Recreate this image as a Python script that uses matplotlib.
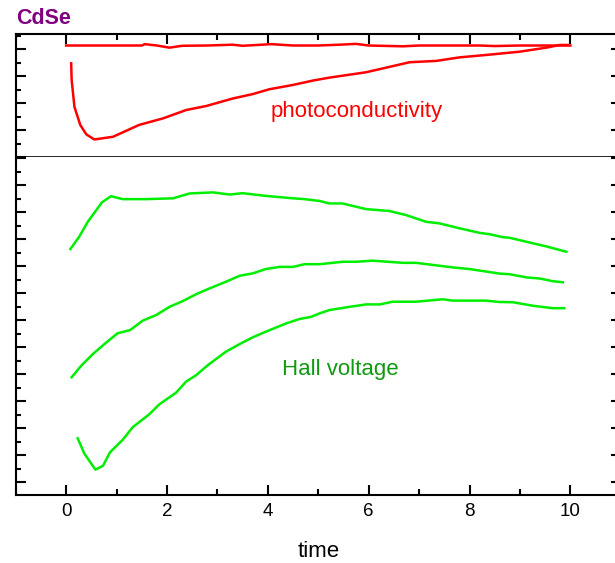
import matplotlib
matplotlib.use('Agg')
import matplotlib.pyplot as plt
from matplotlib.ticker import MultipleLocator

plt.rcParams['font.family'] = ['Liberation Sans', 'DejaVu Sans']

# photoconductivity (top panel)
pc_flat_t = [0.0, 0.5, 1.0, 1.5, 1.56, 1.8, 2.05, 2.3, 2.8, 3.3, 3.5, 4.07, 4.5, 5.0,
             5.42, 5.75, 6.0, 6.68, 7.0, 8.2, 8.5, 9.0, 9.5, 10.0]
pc_flat_v = [4.13, 4.13, 4.13, 4.13, 4.18, 4.13, 4.05, 4.12, 4.13, 4.16, 4.12, 4.18, 4.13, 4.13,
             4.16, 4.19, 4.13, 4.10, 4.13, 4.13, 4.11, 4.13, 4.13, 4.13]
pc_t = [0.10, 0.11, 0.165, 0.28, 0.40, 0.56, 0.93, 1.45, 1.92, 2.38, 2.78, 3.31, 3.70,
        4.03, 4.5, 4.89, 5.22, 5.95, 6.81, 7.34, 7.80, 8.33, 8.99, 9.52, 9.79, 9.95]
pc_v = [3.47, 2.85, 1.86, 1.19, 0.84, 0.65, 0.75, 1.19, 1.43, 1.74, 1.89, 2.17, 2.33,
        2.51, 2.67, 2.83, 2.94, 3.14, 3.51, 3.56, 3.69, 3.78, 3.90, 4.05, 4.15, 4.15]

# Hall voltage (bottom panel), three runs
hall1_t = [0.085, 0.26, 0.43, 0.71, 0.89, 1.12, 1.59, 2.12, 2.45, 2.91, 3.24, 3.50, 3.96,
           4.5, 4.73, 5.03, 5.22, 5.48, 5.95, 6.41, 6.74, 7.14, 7.41, 7.80, 8.20, 8.40,
           8.66, 8.79, 9.13, 9.52, 9.92]
hall1_v = [8.63, 9.09, 9.64, 10.36, 10.59, 10.48, 10.48, 10.51, 10.69, 10.73, 10.65, 10.70, 10.60,
           10.51, 10.48, 10.41, 10.32, 10.32, 10.11, 10.04, 9.89, 9.64, 9.58, 9.40, 9.23, 9.18,
           9.07, 9.05, 8.90, 8.73, 8.53]
hall2_t = [0.11, 0.30, 0.53, 0.79, 1.02, 1.27, 1.52, 1.79, 2.05, 2.31, 2.58, 2.84, 3.17,
           3.44, 3.70, 3.96, 4.23, 4.50, 4.73, 5.03, 5.49, 5.75, 6.08, 6.68, 6.94, 7.67,
           8.0, 8.60, 8.79, 9.13, 9.39, 9.65, 9.85]
hall2_v = [3.88, 4.31, 4.74, 5.16, 5.51, 5.63, 5.98, 6.19, 6.49, 6.70, 6.96, 7.17, 7.42,
           7.64, 7.73, 7.89, 7.97, 7.97, 8.07, 8.07, 8.16, 8.16, 8.20, 8.12, 8.12, 7.95,
           7.89, 7.72, 7.70, 7.58, 7.54, 7.44, 7.40]
hall3_t = [0.23, 0.36, 0.58, 0.73, 0.87, 1.12, 1.32, 1.65, 1.85, 2.18, 2.38, 2.58, 2.81,
           3.17, 3.47, 3.70, 3.96, 4.37, 4.63, 4.86, 5.03, 5.22, 5.62, 5.95, 6.22, 6.48,
           6.94, 7.47, 7.67, 8.33, 8.59, 8.86, 9.26, 9.65, 9.88]
hall3_v = [1.62, 1.06, 0.46, 0.60, 1.10, 1.56, 2.03, 2.51, 2.88, 3.31, 3.72, 3.96, 4.33,
           4.83, 5.14, 5.36, 5.57, 5.88, 6.04, 6.12, 6.25, 6.37, 6.49, 6.58, 6.58, 6.68,
           6.68, 6.77, 6.72, 6.72, 6.67, 6.66, 6.53, 6.44, 6.44]

red = '#ff0000'
green = '#00ee00'

fig = plt.figure(figsize=(6.15, 5.63), dpi=100)
ax1 = fig.add_axes([0.0255, 0.7211, 0.984, 0.2185])
ax2 = fig.add_axes([0.0255, 0.1208, 0.984, 0.6003], sharex=ax1)

ax1.plot(pc_flat_t, pc_flat_v, color=red, lw=1.8)
ax1.plot(pc_t, pc_v, color=red, lw=1.8)
ax1.text(5.76, 1.47, 'photoconductivity', color=red, fontsize=16, ha='center', va='baseline')

for t, v in [(hall1_t, hall1_v), (hall2_t, hall2_v), (hall3_t, hall3_v)]:
    ax2.plot(t, v, color=green, lw=1.8)
ax2.text(5.43, 3.96, 'Hall voltage', color='#119911', fontsize=16, ha='center', va='baseline')

ax1.set_xlim(-1, 11)
ax1.set_ylim(0, 4.556)
ax2.set_ylim(-0.48, 12.04)

for ax in (ax1, ax2):
    ax.xaxis.set_major_locator(MultipleLocator(2))
    ax.xaxis.set_minor_locator(MultipleLocator(1))
    ax.yaxis.set_major_locator(MultipleLocator(1))
    ax.yaxis.set_minor_locator(MultipleLocator(0.5))
    ax.tick_params(axis='y', which='both', left=True, right=True, direction='in',
                   labelleft=False, width=1.5)
    ax.tick_params(axis='y', which='major', length=7)
    ax.tick_params(axis='y', which='minor', length=3.5)
    for s in ax.spines.values():
        s.set_linewidth(1.5)

ax1.tick_params(axis='x', which='both', top=True, bottom=False, direction='in',
                labelbottom=False, width=1.5)
ax1.tick_params(axis='x', which='major', length=7)
ax1.tick_params(axis='x', which='minor', length=4)
ax1.spines['bottom'].set_linewidth(1.2)
ax2.spines['top'].set_visible(False)

ax2.tick_params(axis='x', which='both', top=False, bottom=True, direction='in',
                width=1.5, labelsize=13.5, pad=6)
ax2.tick_params(axis='x', which='major', length=7)
ax2.tick_params(axis='x', which='minor', length=4)
ax2.set_xlabel('time', fontsize=16, va='baseline')
ax2.xaxis.set_label_coords(0.5, -0.183)

fig.text(0.026, 0.957, 'CdSe', color='#800080', fontsize=15.5, fontweight='bold', va='baseline')

fig.savefig('out.png', dpi=100)
